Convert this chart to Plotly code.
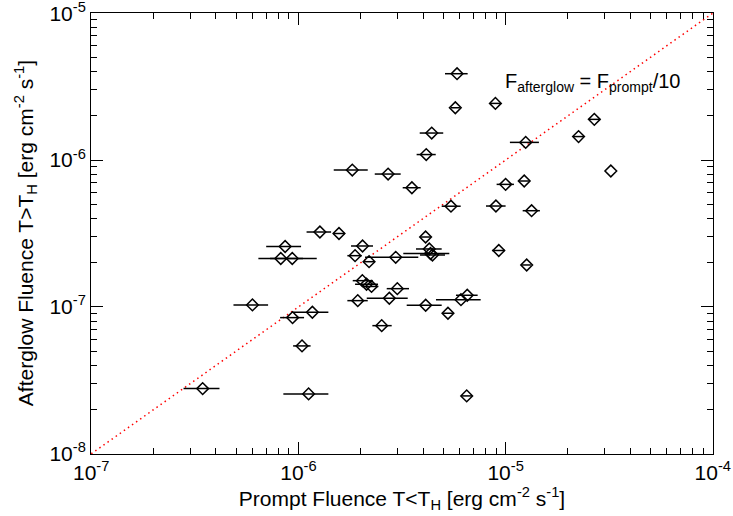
import plotly.graph_objects as go

# Prompt fluence (x), afterglow fluence (y), asymmetric x errors (lower, upper bounds)
prompt = [5.83e-6, 5.72e-6, 4.40e-6, 4.14e-6, 1.82e-6, 2.71e-6, 3.53e-6, 5.45e-6,
          8.93e-6, 8.98e-6, 1.27e-6, 1.57e-6, 8.63e-7, 4.11e-6, 2.04e-6, 1.25e-5,
          2.25e-5, 2.68e-5, 3.22e-5, 1.00e-5, 1.23e-5, 1.335e-5, 9.27e-6, 1.264e-5,
          8.22e-7, 9.34e-7, 6.00e-7, 1.168e-6, 9.37e-7, 1.041e-6, 3.45e-7, 1.12e-6,
          1.877e-6, 2.193e-6, 2.949e-6, 4.283e-6, 4.34e-6, 4.437e-6, 2.035e-6, 2.132e-6,
          2.254e-6, 3.002e-6, 1.934e-6, 2.747e-6, 4.114e-6, 6.09e-6, 6.53e-6, 5.27e-6,
          2.524e-6, 6.49e-6]
afterglow = [3.87e-6, 2.27e-6, 1.527e-6, 1.09e-6, 8.55e-7, 8.03e-7, 6.48e-7, 4.85e-7,
             2.43e-6, 4.865e-7, 3.237e-7, 3.162e-7, 2.58e-7, 2.993e-7, 2.60e-7, 1.319e-6,
             1.445e-6, 1.892e-6, 8.42e-7, 6.83e-7, 7.20e-7, 4.52e-7, 2.423e-7, 1.931e-7,
             2.138e-7, 2.138e-7, 1.032e-7, 9.20e-8, 8.46e-8, 5.43e-8, 2.78e-8, 2.56e-8,
             2.234e-7, 2.033e-7, 2.178e-7, 2.481e-7, 2.312e-7, 2.258e-7, 1.51e-7, 1.427e-7,
             1.379e-7, 1.332e-7, 1.104e-7, 1.146e-7, 1.027e-7, 1.121e-7, 1.201e-7, 9.06e-8,
             7.46e-8, 2.48e-8]
prompt_lo = [5.10e-6, 5.45e-6, 3.85e-6, 3.72e-6, 1.481e-6, 2.336e-6, 3.187e-6, 4.915e-6,
             8.40e-6, 8.04e-6, 1.095e-6, 1.47e-6, 6.99e-7, 3.864e-6, 1.795e-6, 1.049e-5,
             2.113e-5, 2.523e-5, 3.22e-5, 9.05e-6, 1.16e-5, 1.209e-5, 8.59e-6, 1.199e-5,
             6.41e-7, 7.30e-7, 4.86e-7, 9.43e-7, 8.16e-7, 9.43e-7, 2.79e-7, 8.46e-7,
             1.723e-6, 2.058e-6, 2.097e-6, 3.693e-6, 3.208e-6, 3.864e-6, 1.829e-6, 1.877e-6,
             2.028e-6, 2.668e-6, 1.723e-6, 2.137e-6, 3.332e-6, 4.613e-6, 5.76e-6, 4.99e-6,
             2.275e-6, 6.09e-6]
prompt_hi = [6.56e-6, 6.02e-6, 5.00e-6, 4.60e-6, 2.161e-6, 3.117e-6, 3.892e-6, 6.07e-6,
             9.49e-6, 1.00e-5, 1.438e-6, 1.68e-6, 1.03e-6, 4.364e-6, 2.292e-6, 1.448e-5,
             2.387e-5, 2.851e-5, 3.22e-5, 1.097e-5, 1.31e-5, 1.464e-5, 9.93e-6, 1.325e-5,
             1.053e-6, 1.226e-6, 7.14e-7, 1.395e-6, 1.065e-6, 1.145e-6, 4.16e-7, 1.395e-6,
             2.021e-6, 2.343e-6, 3.79e-6, 4.915e-6, 5.35e-6, 5.10e-6, 2.285e-6, 2.423e-6,
             2.431e-6, 3.419e-6, 2.161e-6, 3.37e-6, 4.915e-6, 7.58e-6, 7.33e-6, 5.57e-6,
             2.82e-6, 6.88e-6]

line_x = [1e-7, 1e-4]
line_y = [1e-8, 1e-5]

x_tick_exps = [-7, -6, -5, -4]
y_tick_exps = [-8, -7, -6, -5]

err_plus = [h - p for h, p in zip(prompt_hi, prompt)]
err_minus = [p - l for p, l in zip(prompt, prompt_lo)]

FONT = "Liberation Sans, Arial, Helvetica"

fig = go.Figure()
fig.add_trace(go.Scatter(
    x=line_x, y=line_y, mode="lines",
    line=dict(color="red", dash="1.5px,3.5px", width=1.5),
    hoverinfo="skip", showlegend=False))
fig.add_trace(go.Scatter(
    x=prompt, y=afterglow, mode="markers",
    marker=dict(symbol="diamond-open", size=9, color="black", line=dict(width=1.5, color="black")),
    error_x=dict(type="data", symmetric=False, array=err_plus, arrayminus=err_minus,
                 color="black", thickness=1.5, width=0),
    showlegend=False))

fig.add_annotation(
    x=0.662, y=0.842, xref="paper", yref="paper", xanchor="left", yanchor="middle",
    text="F<sub>afterglow</sub> = F<sub>prompt</sub>/10", showarrow=False,
    font=dict(family=FONT, size=20, color="black"))

# y-axis title as rotated text placed like the reference
fig.add_annotation(
    x=-0.105, y=0.5, xref="paper", yref="paper", xanchor="center", yanchor="middle",
    textangle=-90, showarrow=False,
    text="Afterglow Fluence T&gt;T<sub>H</sub> [erg cm<sup>-2</sup> s<sup>-1</sup>]",
    font=dict(family=FONT, size=21, color="black"))


def minor_vals(exps):
    vals = []
    for e in exps[:-1]:
        for k in range(2, 10):
            vals.append(k * 10.0 ** e)
    return vals


def axis_cfg(exps):
    return dict(
        type="log", showgrid=False, zeroline=False, showline=True, linecolor="black", linewidth=1,
        mirror="allticks", ticks="inside", ticklen=12, tickwidth=1, tickcolor="black",
        tickmode="array", tickvals=[10.0 ** e for e in exps],
        ticktext=["10<sup>%d</sup>" % e for e in exps],
        minor=dict(ticks="inside", ticklen=6, tickwidth=1, tickcolor="black",
                   tickmode="array", tickvals=minor_vals(exps), showgrid=False),
        tickfont=dict(family=FONT, size=21, color="black"),
        ticklabeloverflow="allow",
        automargin=False,
        range=[exps[0] - 0.001, exps[-1] + 0.001],
    )


fig.update_xaxes(**axis_cfg(x_tick_exps),
                 title=dict(text="Prompt Fluence T&lt;T<sub>H</sub> [erg cm<sup>-2</sup> s<sup>-1</sup>]",
                            font=dict(family=FONT, size=21, color="black"),
                            standoff=4))
fig.update_yaxes(**axis_cfg(y_tick_exps))

fig.update_layout(
    width=733, height=516, margin=dict(l=91, r=20, t=13, b=62),
    paper_bgcolor="white", plot_bgcolor="white",
)

fig.write_html("out.html")
